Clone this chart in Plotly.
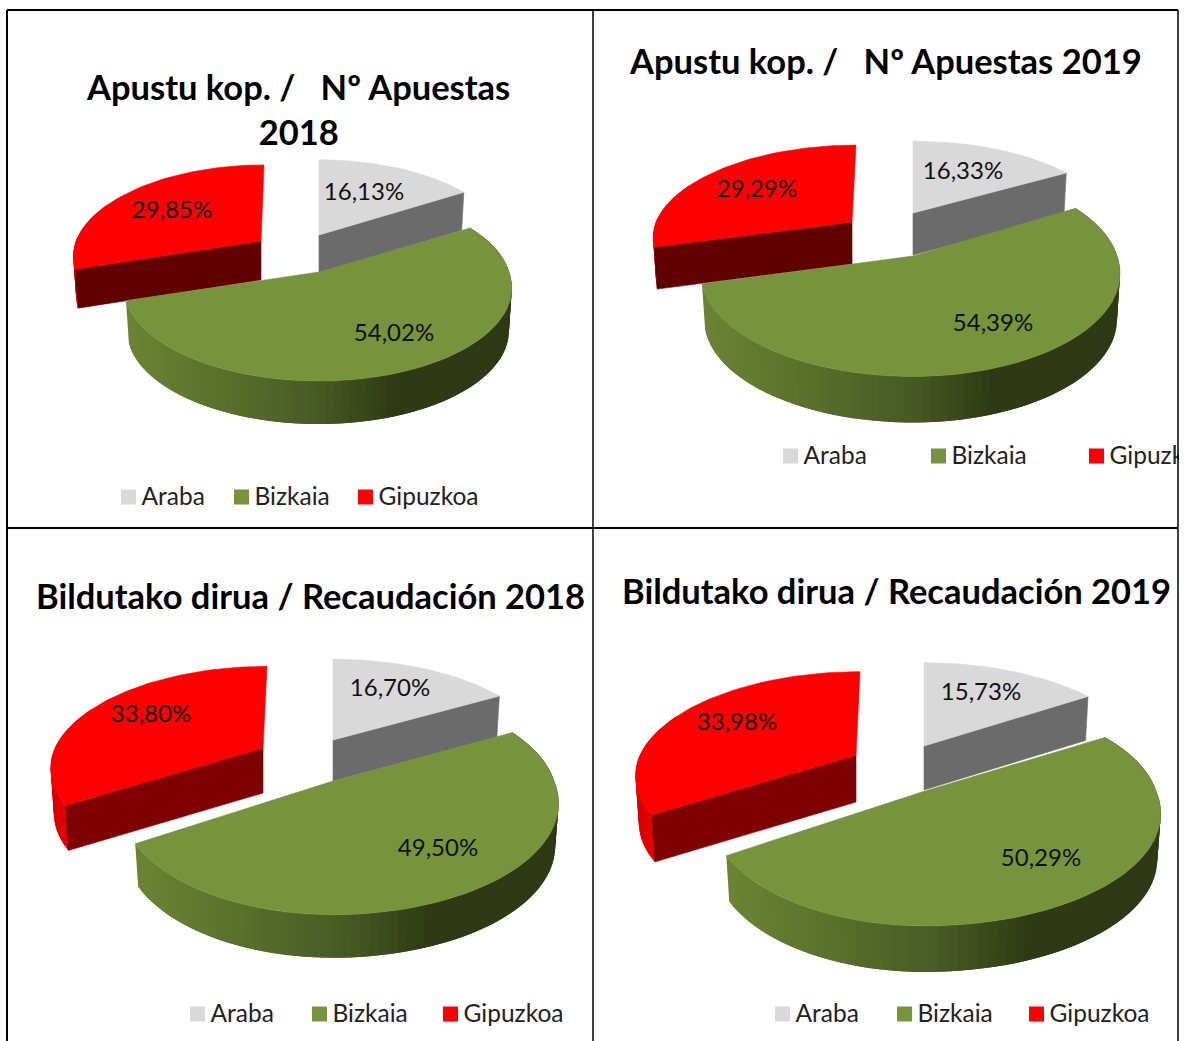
import math
import plotly.graph_objects as go

# ---- data ----
CATEGORIES = ["Araba", "Bizkaia", "Gipuzkoa"]
TITLES = ["Apustu kop. /   Nº Apuestas<br>2018", "Apustu kop. /   Nº Apuestas 2019",
          "Bildutako dirua / Recaudación 2018", "Bildutako dirua / Recaudación 2019"]
ARABA = [16.13, 16.33, 16.70, 15.73]
BIZKAIA = [54.02, 54.39, 49.50, 50.29]
GIPUZKOA = [29.85, 29.29, 33.80, 33.98]

# ---- styles / layout ----
FONT = "Lato"
W, H = 1189, 1041
TOP = ["#d9d9d9", "#77933c", "#ff0000"]
SQUARE = ["#d9d9d9", "#77933c", "#ff0000"]
CUT_GREY = "#6b6b6b"
CUT_RED = ["#600000", "#600000", "#7f0000", "#7f0000"]
GREEN_STOPS = [(0.0, (107, 133, 53)), (0.25, (90, 112, 44)), (0.5, (72, 90, 36)),
               (0.7, (47, 58, 21)), (1.0, (47, 57, 22))]

# per panel perspective and per slice placement: apex x, apex y, R right, R left, Rk, depth, lean
PERSP = [0.17, 0.17, 0.20, 0.20]
PLACE = [
    [(319, 235, 186, 186, 88, 38, 0), (319, 272, 190, 192, 90.5, 43, 6), (261, 241, 185, 185, 89, 39, 3)],
    [(913, 213, 195, 195, 84, 42, 0), (913, 256, 204, 209, 100, 46, 4), (852, 222, 196, 196, 90, 42, 4)],
    [(333, 740, 211, 211, 97, 41, 0), (333, 781, 221, 208, 107, 43, 10), (263, 748, 208, 208, 98, 45, 4)],
    [(924, 746, 218, 218, 100, 44, 0), (925, 791, 231, 210, 108, 46, 11), (856, 755, 216, 216, 100, 47, 4)],
]
TITLE_POS = [(298, 109), (885, 60), (310, 595), (896, 590)]
LABEL_POS = [
    [(364, 194), (394, 335), (172, 212)],
    [(963, 173), (993, 325), (757, 191)],
    [(390, 690), (438, 850), (151, 716)],
    [(981, 694), (1041, 860), (737, 724)],
]
LEGEND_X = [[121, 234, 358], [783, 931, 1089], [190, 312, 443], [775, 897, 1029]]
LEGEND_Y = [497, 456, 1014, 1014]
FRAME = [(7, 10, 1178, 10, 2), (7, 528, 1178, 528, 2), (7, 10, 7, 1041, 2),
         (593, 10, 593, 1041, 1.5), (1178, 10, 1178, 1041, 1.5)]


def project(a, place, p):
    ax, ay, r, rl, rk, _, lean = place
    X, Y = math.sin(a), math.cos(a)
    s = 1 / (1 + p * Y)
    return ax + (r if X >= 0 else rl) * X * s + lean * max(Y, 0), ay - rk * Y * s


def lower(pt, place):
    ax, _, _, _, _, d, _ = place
    return ax + (pt[0] - ax) * 0.985, pt[1] + d


def arc(a0, a1, place, p, step=2.0):
    n = max(2, int(abs(a1 - a0) / math.radians(step)))
    return [project(a0 + (a1 - a0) * i / n, place, p) for i in range(n + 1)]


def poly(fig, pts, color, lw=0.6):
    xs = [q[0] for q in pts] + [pts[0][0]]
    ys = [q[1] for q in pts] + [pts[0][1]]
    fig.add_trace(go.Scatter(x=xs, y=ys, mode="lines", fill="toself", fillcolor=color,
                             line=dict(color=color, width=lw), hoverinfo="skip", showlegend=False))


def green(f):
    for (f0, c0), (f1, c1) in zip(GREEN_STOPS, GREEN_STOPS[1:]):
        if f <= f1:
            t = (f - f0) / (f1 - f0)
            return "rgb(%d,%d,%d)" % tuple(c0[k] + (c1[k] - c0[k]) * t for k in range(3))
    return "rgb(47,57,22)"


def red_wall(f):
    return "rgb(%d,0,0)" % (215 + 40 * f)


def draw_wall(fig, a0, a1, place, p, painter):
    pts = arc(a0, a1, place, p, step=2.0)
    xmin, xmax = min(q[0] for q in pts), max(q[0] for q in pts)
    if a0 > 0.9 and a0 < 1.5:  # front wall: paint from left to right so that strips overlap
        pts = pts[::-1]
    for i in range(len(pts) - 1):
        j = min(i + 2, len(pts) - 1)  # overlap the following strip
        quad = [pts[i], pts[j], lower(pts[j], place), lower(pts[i], place)]
        mid = (pts[i][0] + pts[i + 1][0]) / 2
        poly(fig, quad, painter((mid - xmin) / max(xmax - xmin, 1)), lw=0)


def draw_slice(fig, a0, a1, place, p, top, cut, painter, wall_end=None):
    apex = (place[0], place[1])
    if painter:
        draw_wall(fig, a0, wall_end if wall_end else a1, place, p, painter)
    if cut:
        edge = a0 if a0 > math.pi else a1
        corner = project(edge, place, p)
        poly(fig, [apex, corner, lower(corner, place), lower(apex, place)], cut)
    pts = arc(a0, a1, place, p)
    poly(fig, [apex] + pts, top)


fig = go.Figure()
for n in range(4):
    vals = [ARABA[n], BIZKAIA[n], GIPUZKOA[n]]
    total = sum(vals)
    a = [0]
    for v in vals:
        a.append(a[-1] + 2 * math.pi * v / total)
    p = PERSP[n]
    draw_slice(fig, a[0], a[1], PLACE[n][0], p, TOP[0], CUT_GREY, None)
    draw_slice(fig, a[2], a[3], PLACE[n][2], p, TOP[2], CUT_RED[n], red_wall, wall_end=math.radians(295))
    draw_slice(fig, a[1], a[2], PLACE[n][1], p, TOP[1], None, green)

    fig.add_trace(go.Scatter(
        x=[q[0] for q in LABEL_POS[n]], y=[q[1] for q in LABEL_POS[n]], mode="text",
        text=[f"{v:.2f}".replace(".", ",") + "%" for v in vals],
        textposition="middle center", textfont=dict(family=FONT, size=24, color="#111111"),
        hoverinfo="skip", showlegend=False))
    fig.add_trace(go.Scatter(
        x=[x + 7.5 for x in LEGEND_X[n]], y=[LEGEND_Y[n]] * 3, mode="markers",
        marker=dict(symbol="square", size=15, color=SQUARE, line=dict(width=0)),
        hoverinfo="skip", showlegend=False))
    fig.add_trace(go.Scatter(
        x=[x + 20.5 for x in LEGEND_X[n]], y=[LEGEND_Y[n] + 1.5] * 3, mode="text", text=CATEGORIES,
        textposition="middle right", textfont=dict(family=FONT, size=24.5, color="#222222"),
        hoverinfo="skip", showlegend=False))
    fig.add_annotation(x=TITLE_POS[n][0], y=TITLE_POS[n][1], xref="x", yref="y", text=f"<b>{TITLES[n]}</b>",
                       showarrow=False, xanchor="center", yanchor="middle", align="center",
                       font=dict(family=FONT, size=34.5, color="#000000"))

shapes = [dict(type="line", x0=x0, y0=y0, x1=x1, y1=y1, xref="x", yref="y",
               line=dict(color="#000000", width=w)) for x0, y0, x1, y1, w in FRAME]
fig.update_layout(
    width=W, height=H, margin=dict(l=0, r=0, t=0, b=0), autosize=False,
    paper_bgcolor="white", plot_bgcolor="white", showlegend=False, shapes=shapes,
    xaxis=dict(range=[0, 1179], domain=[0, 1179 / W], visible=False, fixedrange=True),
    yaxis=dict(range=[H, 0], domain=[0, 1], visible=False, fixedrange=True),
)
fig.write_html("out.html", config={"displayModeBar": False},
               post_script="document.body.style.margin='0';")
